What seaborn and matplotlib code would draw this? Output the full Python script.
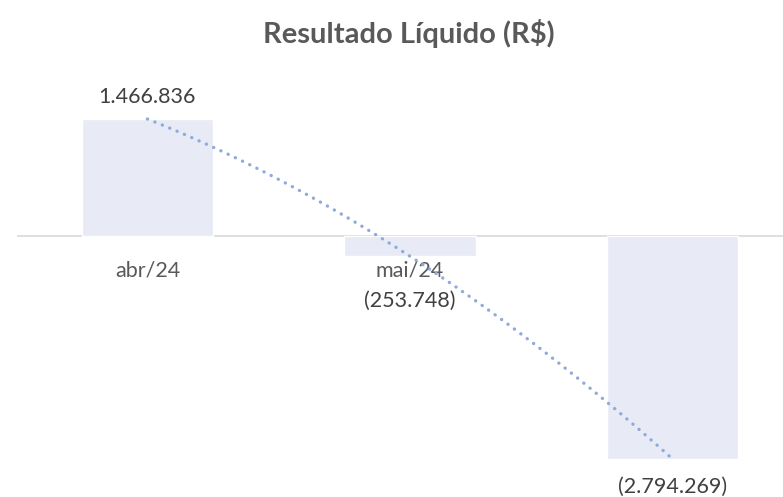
import numpy as np
import pandas as pd
import seaborn as sns
import matplotlib.pyplot as plt

# data
meses = ['abr/24', 'mai/24', 'jun/24']
resultado = [1466836, -253748, -2794269]
rotulos = ['1.466.836', '(253.748)', '(2.794.269)']

df = pd.DataFrame({'mes': meses, 'resultado': resultado})
df['pos'] = np.arange(len(df))

sns.set_style('white')
plt.rcParams['font.family'] = ['Lato', 'DejaVu Sans']

fig = plt.figure(figsize=(7.83, 4.97), dpi=100)
ax = fig.add_axes([18 / 783, 0.0598, 1 - 18 / 783, 0.7863])

sns.barplot(data=df, x='mes', y='resultado', color='#E8EBF5', width=0.5,
            saturation=1, ax=ax, zorder=1)

# linha de tendencia (polinomial, ordem 2)
sns.regplot(data=df, x='pos', y='resultado', order=2, ci=None, scatter=False,
            ax=ax, color='#8FAADC',
            line_kws=dict(linestyle=(0, (0.05, 2.35)), lw=2.4,
                          dash_capstyle='round', zorder=3))

ax.set_xlim(-0.493, 2.421)
ax.set_ylim(-2.9e6, 2.0e6)

# eixo no zero
ax.spines['bottom'].set_position(('data', 0))
ax.spines['bottom'].set_color('#D9D9D9')
ax.spines['bottom'].set_linewidth(1.2)
ax.spines['bottom'].set_zorder(0)
for s in ['top', 'right', 'left']:
    ax.spines[s].set_visible(False)
ax.set_yticks([])
ax.set_xticks(df['pos'])
ax.set_xticklabels(meses)
ax.tick_params(axis='x', length=0, pad=18, labelsize=15.5, labelcolor='#595959')
ax.set_xlabel('')
ax.set_ylabel('')

# rotulos de dados
offsets = [16, -32, -20]
for p, v, r, o in zip(df['pos'], resultado, rotulos, offsets):
    ax.annotate(r, (p, v), xytext=(0, o), textcoords='offset points',
                ha='center', va='center', fontsize=15.5, color='#404040')

fig.text(0.522, 0.933, 'Resultado Líquido (R$)', ha='center', va='center',
         fontsize=21, fontweight='bold', color='#595959')

fig.savefig('out.png', dpi=100)
